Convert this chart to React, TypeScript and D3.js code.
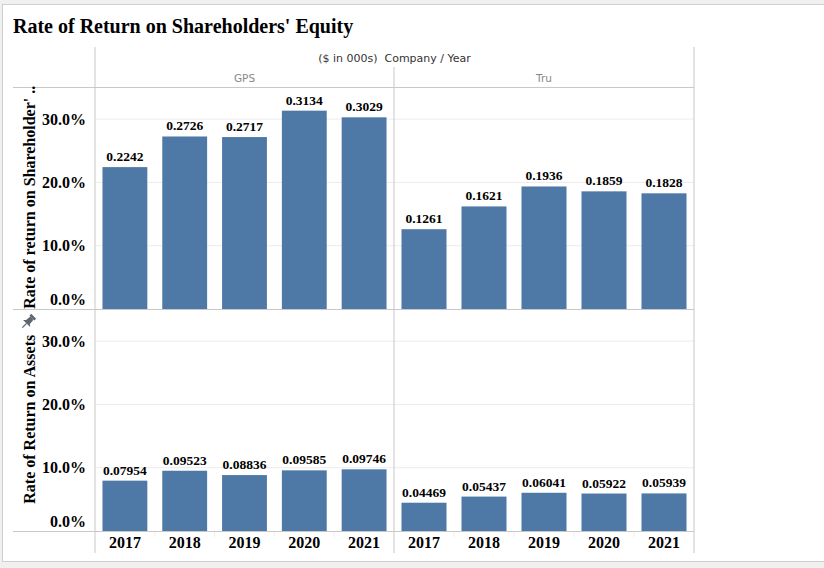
import React from "react";
import * as d3 from "d3";

const companies = ["GPS", "Tru"];
const years = ["2017", "2018", "2019", "2020", "2021"];
const roeGPS = [0.2242, 0.2726, 0.2717, 0.3134, 0.3029];
const roeTru = [0.1261, 0.1621, 0.1936, 0.1859, 0.1828];
const roaGPS = [0.07954, 0.09523, 0.08836, 0.09585, 0.09746];
const roaTru = [0.04469, 0.05437, 0.06041, 0.05922, 0.05939];
const yTicks = [0, 0.1, 0.2, 0.3];

const W = 824, H = 568;
const serif = "'Liberation Serif', 'Times New Roman', serif";
const sans = "'DejaVu Sans', Tahoma, sans-serif";
const barColor = "#4e79a7";
const lineColor = "#c8c8c8";
const gridColor = "#ececec";

export default function App() {
  const paneX = [95, 394, 694];
  const xScales = companies.map((c, i) =>
    d3.scaleBand<string>().domain(years).range([paneX[i], paneX[i + 1]]).paddingInner(0.25).paddingOuter(0.125)
  );
  const rows = [
    { title: "Rate of return on Shareholder' ..", data: [roeGPS, roeTru], y: d3.scaleLinear().domain([0, 0.35]).range([309, 87.5]) },
    { title: "Rate of Return on Assets", data: [roaGPS, roaTru], y: d3.scaleLinear().domain([0, 0.35]).range([531, 309.5]) },
  ];
  const fmtPct = d3.format(".1%");
  const fmtVal = (v: number) => String(v);

  return (
    <svg width={W} height={H} style={{ position: "absolute", left: 0, top: 0, background: "#f0f0f0" }}>
      <rect x={2.5} y={4.5} width={840} height={557} fill="#fff" stroke="#cfcfcf" />
      <text x={13} y={33} fontFamily={serif} fontWeight="bold" fontSize={20} fill="#000">
        Rate of Return on Shareholders' Equity
      </text>
      {/* header */}
      <text x={(paneX[0] + paneX[2]) / 2} y={62} textAnchor="middle" fontFamily={sans} fontSize={11} fill="#333" xmlSpace="preserve">
        ($ in 000s)  Company / Year
      </text>
      {companies.map((c, i) => (
        <text key={c} x={(paneX[i] + paneX[i + 1]) / 2} y={82} textAnchor="middle" fontFamily={sans} fontSize={10.5} fill="#888">
          {c}
        </text>
      ))}
      {/* gridlines */}
      {rows.map((r, ri) =>
        yTicks.filter((t) => t > 0).map((t) => (
          <line key={ri + "-" + t} x1={paneX[0]} x2={paneX[2]} y1={r.y(t)} y2={r.y(t)} stroke={gridColor} />
        ))
      )}
      {/* year separators */}
      {xScales.map((xs, ci) =>
        years.slice(1).map((yr) => {
          const xx = (xs(yr) as number) - xs.step() * 0.125;
          return <line key={ci + yr} x1={xx} x2={xx} y1={531} y2={537} stroke="#eeeeee" />;
        })
      )}
      {/* bars */}
      {rows.map((r, ri) =>
        companies.map((c, ci) =>
          r.data[ci].map((v, k) => {
            const xs = xScales[ci];
            const x = xs(years[k]) as number;
            return (
              <g key={ri + c + k}>
                <rect x={x} y={r.y(v)} width={xs.bandwidth()} height={r.y(0) - r.y(v)} fill={barColor} />
                <text x={x + xs.bandwidth() / 2} y={r.y(v) - 6} textAnchor="middle" fontFamily={serif} fontWeight="bold" fontSize={13.5} fill="#000">
                  {fmtVal(v)}
                </text>
              </g>
            );
          })
        )
      )}
      {/* lines */}
      <line x1={paneX[0]} x2={paneX[0]} y1={47} y2={553} stroke={lineColor} />
      <line x1={paneX[2]} x2={paneX[2]} y1={47} y2={553} stroke={lineColor} />
      <line x1={paneX[1]} x2={paneX[1]} y1={67} y2={553} stroke={lineColor} />
      <line x1={13} x2={paneX[2]} y1={87.5} y2={87.5} stroke={lineColor} />
      <line x1={13} x2={paneX[2]} y1={309.5} y2={309.5} stroke={lineColor} />
      <line x1={13} x2={paneX[2]} y1={531.5} y2={531.5} stroke={lineColor} />
      {/* y axes */}
      {rows.map((r, ri) => (
        <g key={"ax" + ri}>
          {yTicks.map((t) => {
            const base = t === 0 ? r.y(0) - 4 : r.y(t) + 5.5;
            return (
              <text key={t} x={86} y={base} textAnchor="end" fontFamily={serif} fontWeight="bold" fontSize={16} fill="#000">
                {fmtPct(t)}
              </text>
            );
          })}
          <text
            transform={`translate(35, ${(r.y(0) + r.y.range()[1]) / 2 - 1}) rotate(-90)`}
            textAnchor="middle"
            fontFamily={serif}
            fontWeight="bold"
            fontSize={16}
            fill="#000"
          >
            {r.title}
          </text>
        </g>
      ))}
      {/* pin icon */}
      <g transform="translate(28, 322) rotate(45)" fill="#5f6670">
        <rect x={-3.5} y={-8} width={7} height={2.5} />
        <path d="M -2.2 -5.5 L 2.2 -5.5 L 2.7 0 L 5 2 L -5 2 L -2.7 0 Z" />
        <line x1={0} y1={2} x2={0} y2={8} stroke="#5f6670" strokeWidth={1.3} />
      </g>
      {/* x labels */}
      {xScales.map((xs, ci) =>
        years.map((yr) => (
          <text key={ci + yr} x={(xs(yr) as number) + xs.bandwidth() / 2} y={548} textAnchor="middle" fontFamily={serif} fontWeight="bold" fontSize={16} fill="#000">
            {yr}
          </text>
        ))
      )}
    </svg>
  );
}
